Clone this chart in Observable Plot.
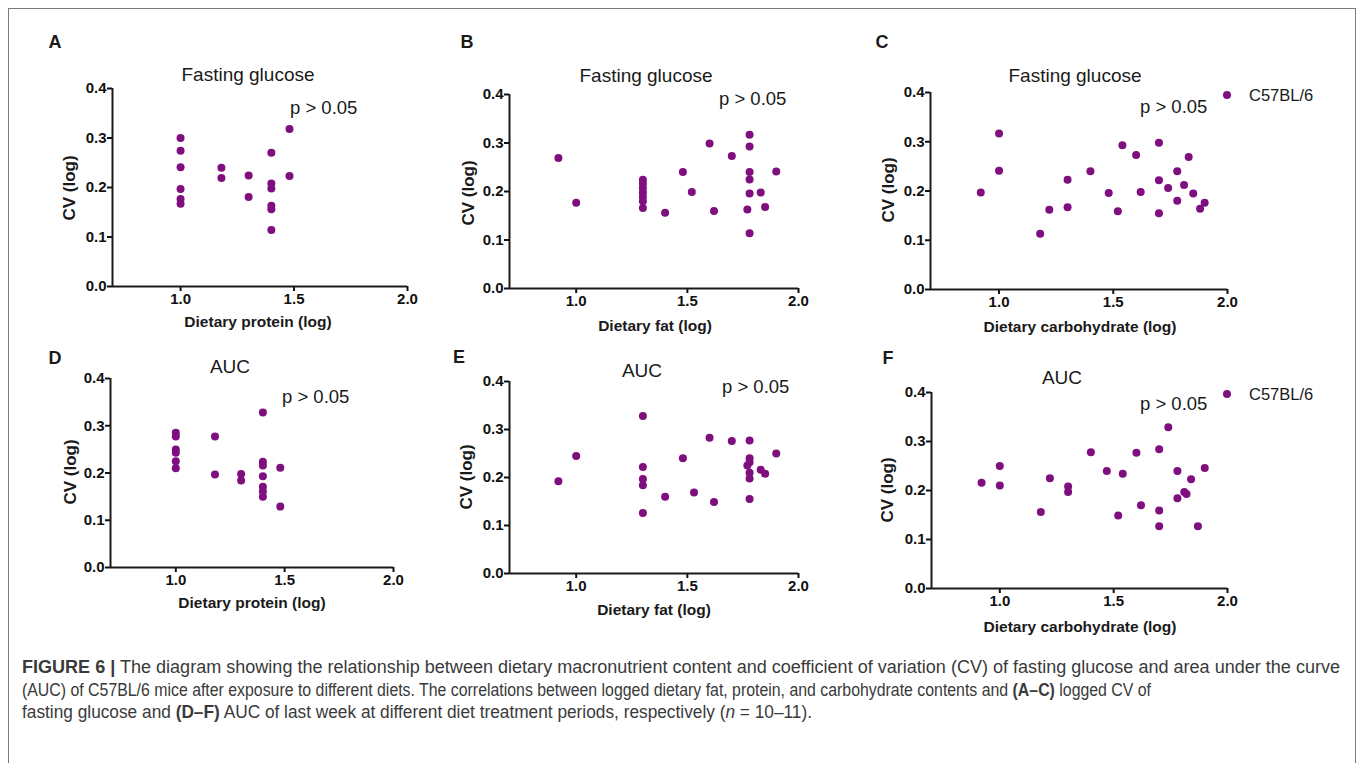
<!DOCTYPE html>
<html>
<head>
<meta charset="utf-8">
<script src="https://cdn.jsdelivr.net/npm/d3@7"></script>
<script src="https://cdn.jsdelivr.net/npm/@observablehq/plot@0.6"></script>
<style>
  html, body { margin: 0; padding: 0; background: #fff; }
  #root { position: relative; width: 1362px; height: 763px; overflow: hidden; font-family: "Liberation Sans", Arial, sans-serif; color: #1a1a1a; }
  .abs { position: absolute; white-space: nowrap; }
  .c { transform: translate(-50%, -50%); }
  .l { transform: translateY(-50%); }
  .letter { font-weight: bold; font-size: 18px; }
  .title { font-size: 19px; }
  .pval { font-size: 18.5px; }
  .xlab { font-weight: bold; font-size: 15.5px; }
  .ylab { font-weight: bold; font-size: 17px; transform: translate(-50%, -50%) rotate(-90deg); }
  .legtxt { font-size: 16.5px; }
  .legdot { width: 8px; height: 8px; border-radius: 50%; background: #7f0f7f; transform: translate(-50%, -50%); }
  .cap { font-size: 17.5px; color: #3a3a3a; transform-origin: 0 50%; }
  #frame { position: absolute; left: 8px; top: 8px; width: 1346px; height: 820px; border: 1.5px solid #7a7a7a; }
</style>
</head>
<body>
<div id="root"><div id="frame"></div></div>
<script>
// ---------- data ----------
const dotColor = "#7f0f7f";
const xDomain = [0.7, 2.0];
const yDomain = [0, 0.4];
const xTicks = [1.0, 1.5, 2.0];
const yTicks = [0.0, 0.1, 0.2, 0.3, 0.4];
const yLabel = "CV (log)";
const pText = "p > 0.05";
const legendLabel = "C57BL/6";

// A: fasting glucose vs dietary protein
const aX = [1.0,1.0,1.0,1.0,1.0,1.0, 1.18,1.18, 1.30,1.30, 1.40,1.40,1.40,1.40,1.40,1.40, 1.48,1.48];
const aY = [0.300,0.274,0.241,0.197,0.177,0.167, 0.240,0.219, 0.224,0.181, 0.270,0.208,0.198,0.163,0.156,0.114, 0.318,0.223];
// B: fasting glucose vs dietary fat
const bX = [0.92, 1.0, 1.30,1.30,1.30,1.30,1.30,1.30,1.30, 1.40, 1.48, 1.52, 1.60, 1.62, 1.70, 1.78,1.78,1.78,1.78,1.78,1.78, 1.77, 1.83, 1.85, 1.90];
const bY = [0.269, 0.177, 0.224,0.216,0.207,0.198,0.189,0.180,0.166, 0.156, 0.240, 0.199, 0.299, 0.160, 0.273, 0.317,0.293,0.240,0.225,0.196,0.114, 0.163, 0.198, 0.168, 0.241];
// C: fasting glucose vs dietary carbohydrate
const cX = [0.92, 1.0,1.0, 1.18, 1.22, 1.30,1.30, 1.40, 1.48, 1.52, 1.54, 1.60, 1.62, 1.70,1.70,1.70, 1.74, 1.78,1.78, 1.81, 1.83, 1.85, 1.88, 1.90];
const cY = [0.197, 0.317,0.241, 0.113, 0.162, 0.223,0.167, 0.240, 0.196, 0.159, 0.293, 0.273, 0.198, 0.298,0.222,0.155, 0.206, 0.240,0.180, 0.212, 0.269, 0.195, 0.164, 0.176];
// D: AUC vs dietary protein
const dX = [1.0,1.0,1.0,1.0,1.0,1.0, 1.18,1.18, 1.30,1.30, 1.40,1.40,1.40,1.40,1.40,1.40,1.40, 1.48,1.48];
const dY = [0.285,0.277,0.250,0.243,0.225,0.210, 0.277,0.197, 0.198,0.184, 0.328,0.224,0.216,0.193,0.171,0.161,0.150, 0.211,0.129];
// E: AUC vs dietary fat
const eX = [0.92, 1.0, 1.30,1.30,1.30,1.30,1.30, 1.40, 1.48, 1.53, 1.60, 1.62, 1.70, 1.77, 1.78,1.78,1.78,1.78,1.78,1.78, 1.83, 1.85, 1.90];
const eY = [0.192, 0.245, 0.328,0.222,0.197,0.184,0.126, 0.160, 0.240, 0.169, 0.283, 0.149, 0.276, 0.225, 0.277,0.240,0.232,0.210,0.198,0.155, 0.216, 0.208, 0.250];
// F: AUC vs dietary carbohydrate
const fX = [0.92, 1.0,1.0, 1.18, 1.22, 1.30,1.30, 1.40, 1.47, 1.52, 1.54, 1.60, 1.62, 1.70,1.70,1.70, 1.74, 1.78,1.78, 1.81, 1.82, 1.84, 1.87, 1.90];
const fY = [0.216, 0.250,0.210, 0.156, 0.225, 0.208,0.197, 0.278, 0.240, 0.149, 0.234, 0.277, 0.170, 0.284,0.159,0.127, 0.329, 0.240,0.184, 0.197, 0.193, 0.223, 0.127, 0.246];

const panelLetters = ["A","B","C","D","E","F"];
const panelTitles = ["Fasting glucose","Fasting glucose","Fasting glucose","AUC","AUC","AUC"];
const xLabels = ["Dietary protein (log)","Dietary fat (log)","Dietary carbohydrate (log)","Dietary protein (log)","Dietary fat (log)","Dietary carbohydrate (log)"];

const captionLines = [
  '<b>FIGURE 6 |</b> The diagram showing the relationship between dietary macronutrient content and coefficient of variation (CV) of fasting glucose and area under the curve',
  '(AUC) of C57BL/6 mice after exposure to different diets. The correlations between logged dietary fat, protein, and carbohydrate contents and <b>(A–C)</b> logged CV of',
  'fasting glucose and <b>(D–F)</b> AUC of last week at different diet treatment periods, respectively (<i>n</i> = 10–11).'
];

// ---------- layout ----------
const layout = [
  {xs:aX, ys:aY, x1:112, x2:407, yTop:88, yBot:286, title:[248,75], p:[290,108], letter:[55,42], xlab:[258,322], ylab:[70,188], legend:null},
  {xs:bX, ys:bY, x1:509, x2:798, yTop:94, yBot:288, title:[646,76], p:[719,99], letter:[467,42], xlab:[655,326], ylab:[469,193], legend:null},
  {xs:cX, ys:cY, x1:930, x2:1227, yTop:92, yBot:289, title:[1075,76], p:[1140,107], letter:[882,42], xlab:[1080,327], ylab:[889,190], legend:[1227,95]},
  {xs:dX, ys:dY, x1:110, x2:393, yTop:378, yBot:567, title:[230,367], p:[282,397], letter:[55,358], xlab:[252,603], ylab:[71,472], legend:null},
  {xs:eX, ys:eY, x1:509, x2:798, yTop:381, yBot:573, title:[642,371], p:[722,387], letter:[459,357], xlab:[654,610], ylab:[467,477], legend:null},
  {xs:fX, ys:fY, x1:931, x2:1227, yTop:392, yBot:588, title:[1062,378], p:[1140,404], letter:[888,358], xlab:[1080,627], ylab:[888,490], legend:[1227,394]}
];

const root = document.getElementById("root");
function addText(cls, html, x, y) {
  const d = document.createElement("div");
  d.className = "abs " + cls;
  d.style.left = x + "px";
  d.style.top = y + "px";
  d.innerHTML = html;
  root.appendChild(d);
  return d;
}

const mL = 55, mR = 20, mT = 10, mB = 30;
const fmt = d3.format(".1f");
const tickFont = 15;

layout.forEach((cfg, i) => {
  const data = cfg.xs.map((x, k) => ({x, y: cfg.ys[k]}));
  const w = mL + (cfg.x2 - cfg.x1) + mR;
  const h = mT + (cfg.yBot - cfg.yTop) + mB;
  const svg = Plot.plot({
    width: w, height: h,
    marginLeft: mL, marginRight: mR, marginTop: mT, marginBottom: mB,
    style: {fontFamily: '"Liberation Sans", Arial, sans-serif', color: "#111", background: "transparent", overflow: "visible"},
    x: {domain: xDomain, label: null},
    y: {domain: yDomain, label: null},
    marks: [
      Plot.axisY({ticks: yTicks, tickFormat: () => "", tickSize: 5, strokeWidth: 2, label: null}),
      Plot.axisX({ticks: xTicks, tickFormat: () => "", tickSize: 5, strokeWidth: 2, label: null}),
      Plot.text(yTicks, {x: () => xDomain[0], y: d => d, text: d => fmt(d), textAnchor: "end", dx: -6, fontSize: tickFont, fontWeight: "bold", fill: "#111"}),
      Plot.text(xTicks, {x: d => d, y: () => yDomain[0], text: d => fmt(d), lineAnchor: "top", dy: 7, fontSize: tickFont, fontWeight: "bold", fill: "#111"}),
      Plot.ruleX([xDomain[0]], {strokeWidth: 2, stroke: "#1a1a1a"}),
      Plot.ruleY([yDomain[0]], {strokeWidth: 2, stroke: "#1a1a1a"}),
      Plot.dot(data, {x: "x", y: "y", r: 4, fill: dotColor, stroke: "none"})
    ]
  });
  svg.style.position = "absolute";
  svg.style.left = (cfg.x1 - mL) + "px";
  svg.style.top = (cfg.yTop - mT) + "px";
  root.appendChild(svg);

  addText("c letter", panelLetters[i], cfg.letter[0], cfg.letter[1]);
  addText("c title", panelTitles[i], cfg.title[0], cfg.title[1]);
  addText("l pval", pText, cfg.p[0], cfg.p[1]);
  addText("c xlab", xLabels[i], cfg.xlab[0], cfg.xlab[1]);
  addText("ylab", yLabel, cfg.ylab[0], cfg.ylab[1]);
  if (cfg.legend) {
    addText("legdot", "", cfg.legend[0], cfg.legend[1]);
    addText("l legtxt", legendLabel, cfg.legend[0] + 22, cfg.legend[1]);
  }
});

// caption
const capY = [667, 690, 712];
const capW = [1318, 1129, 790];
captionLines.forEach((line, i) => {
  const d = addText("cap", line, 22, capY[i]);
  const actual = d.getBoundingClientRect().width;
  const s = capW[i] / actual;
  d.style.transform = `translateY(-50%) scaleX(${s})`;
});
</script>
</body>
</html>
